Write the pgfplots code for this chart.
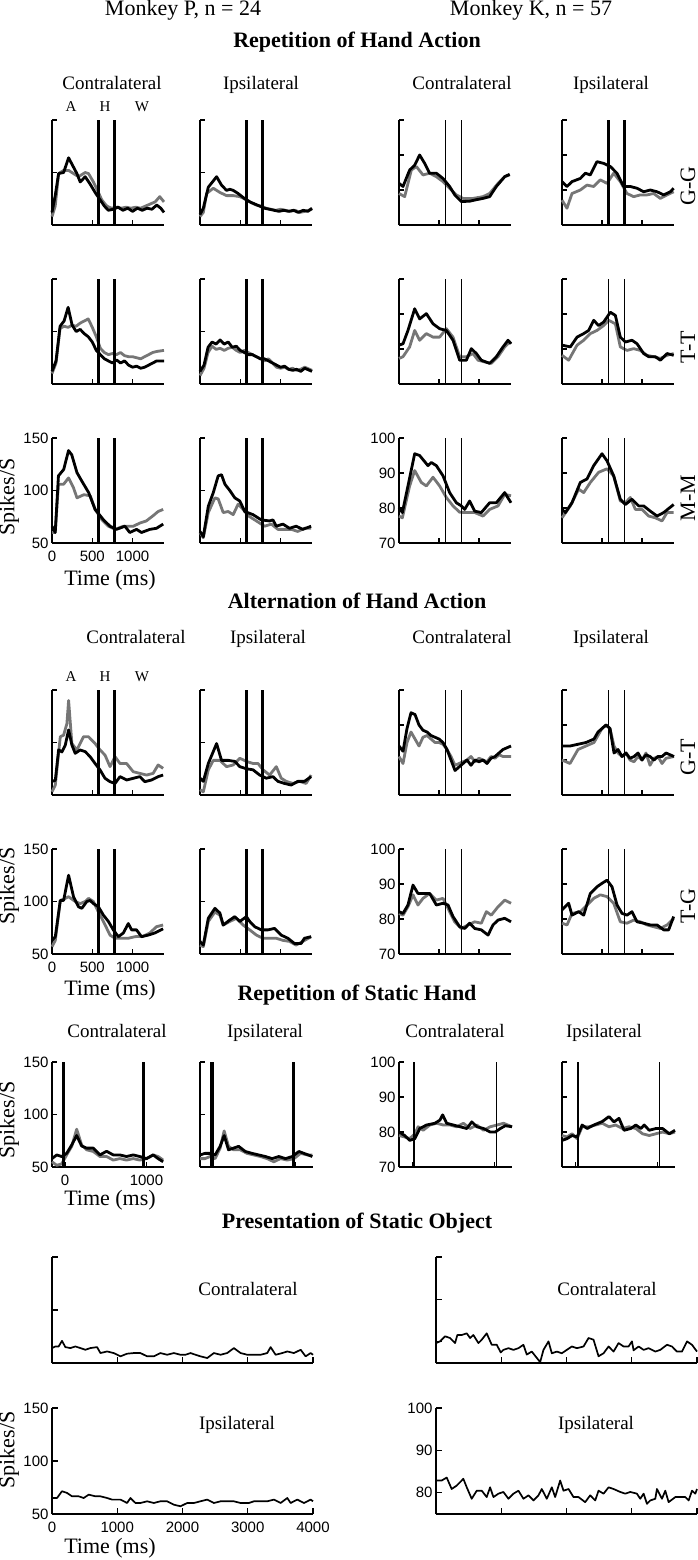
\documentclass[border=0pt]{standalone}
\usepackage{pgfplots}
\pgfplotsset{compat=1.18}
\usepackage{fontspec}
\setmainfont{Liberation Serif}
\newfontfamily\sansf{Liberation Sans}
\definecolor{gry}{RGB}{118,118,118}
\newcommand\fA{\fontsize{22}{25}\selectfont}
\newcommand\fB{\fontsize{19}{22}\selectfont}
\newcommand\fC{\fontsize{15}{17}\selectfont}
\pgfplotsset{
 base/.style={scale only axis, anchor=south west, enlargelimits=false, clip=false,
   axis x line*=bottom, axis y line*=left,
   axis line style={line width=1.4pt,-},
   every outer x axis line/.append style={-},
   every outer y axis line/.append style={-},
   tick align=inside, major tick length=5pt,
   tick style={line width=1.3pt, black},
   xticklabels={}, yticklabels={},
   tick label style={font=\sansf\fontsize{15}{16}\selectfont},
   xticklabel style={yshift=-4pt},
   /pgf/number format/assume math mode=true},
 pA/.style={base, width=112pt, height=105pt, xmin=0, xmax=1390, ymin=50, ymax=150, xtick={0,500,1000}, ytick={50,100,150}},
 kA/.style={base, width=112pt, height=105pt, xmin=0, xmax=1400, ymin=70, ymax=100, xtick={0,500,1000}, ytick={70,80,90,100}},
 pH/.style={base, width=112pt, height=105pt, xmin=-160, xmax=1215, ymin=50, ymax=150, xtick={0,1000}, ytick={50,100,150}},
 kH/.style={base, width=113pt, height=105pt, xmin=-160, xmax=1215, ymin=70, ymax=100, xtick={0,1000}, ytick={70,80,90,100}},
 pO/.style={base, width=261pt, height=106pt, xmin=0, xmax=4000, ymin=50, ymax=150, xtick={0,1000,2000,3000,4000}, ytick={50,100,150}, major tick length=6pt},
 kO/.style={base, width=261pt, height=106pt, xmin=0, xmax=4000, ymin=75, ymax=100, xtick={0,1000,2000,3000,4000}, ytick={80,90,100}, major tick length=6pt},
 blk/.style={black, line width=2.8pt, line join=round, mark=none},
 gry/.style={color=gry, line width=2.8pt, line join=round, mark=none},
 evP/.style={black, line width=3.2pt, mark=none},
 evK/.style={black, line width=1.3pt, mark=none},
 obj/.style={black, line width=1.7pt, line join=round, mark=none},
}
\newcommand\evP{\addplot[evP] coordinates {(575,50)(575,150)};\addplot[evP] coordinates {(780,50)(780,150)};}
\newcommand\evK{\addplot[evK] coordinates {(580,70)(580,100)};\addplot[evK] coordinates {(780,70)(780,100)};}
\newcommand\evKt{\addplot[evP] coordinates {(580,70)(580,100)};\addplot[evP] coordinates {(780,70)(780,100)};}
\begin{document}
\begin{tikzpicture}
\path[use as bounding box] (0pt,0pt) rectangle (698pt,-1560pt);
% ---------- texts ----------
\node[font=\fA] at (183pt,-10pt) {Monkey P, n = 24};
\node[font=\fA] at (531pt,-10pt) {Monkey K, n = 57};
\node[font=\fA\bfseries] at (357pt,-42pt) {Repetition of Hand Action};
\node[font=\fB,anchor=base] at (112pt,-90pt) {Contralateral};
\node[font=\fB,anchor=base] at (261pt,-90pt) {Ipsilateral};
\node[font=\fB,anchor=base] at (462pt,-90pt) {Contralateral};
\node[font=\fB,anchor=base] at (611pt,-90pt) {Ipsilateral};
\node[font=\fC,anchor=base] at (71pt,-112pt) {A};
\node[font=\fC,anchor=base] at (105pt,-112pt) {H};
\node[font=\fC,anchor=base] at (142pt,-112pt) {W};
\node[font=\fA,rotate=90] at (688pt,-186pt) {G-G};
\node[font=\fA,rotate=90] at (688pt,-347pt) {T-T};
\node[font=\fA,rotate=90] at (688pt,-498pt) {M-M};
\node[font=\fA,rotate=90] at (9pt,-497pt) {Spikes/S};
\node[font=\fA] at (110pt,-580pt) {Time (ms)};
\node[font=\fA\bfseries] at (357pt,-601pt) {Alternation of Hand Action};
\node[font=\fB,anchor=base] at (136pt,-643pt) {Contralateral};
\node[font=\fB,anchor=base] at (268pt,-643pt) {Ipsilateral};
\node[font=\fB,anchor=base] at (462pt,-643pt) {Contralateral};
\node[font=\fB,anchor=base] at (611pt,-643pt) {Ipsilateral};
\node[font=\fC,anchor=base] at (71pt,-681pt) {A};
\node[font=\fC,anchor=base] at (105pt,-681pt) {H};
\node[font=\fC,anchor=base] at (142pt,-681pt) {W};
\node[font=\fA,rotate=90] at (688pt,-757pt) {G-T};
\node[font=\fA,rotate=90] at (688pt,-906pt) {T-G};
\node[font=\fA,rotate=90] at (9pt,-886pt) {Spikes/S};
\node[font=\fA] at (110pt,-990pt) {Time (ms)};
\node[font=\fA\bfseries] at (357pt,-995pt) {Repetition of Static Hand};
\node[font=\fB,anchor=base] at (117pt,-1037pt) {Contralateral};
\node[font=\fB,anchor=base] at (265pt,-1037pt) {Ipsilateral};
\node[font=\fB,anchor=base] at (455pt,-1037pt) {Contralateral};
\node[font=\fB,anchor=base] at (604pt,-1037pt) {Ipsilateral};
\node[font=\fA,rotate=90] at (9pt,-1120pt) {Spikes/S};
\node[font=\fA] at (110pt,-1200pt) {Time (ms)};
\node[font=\fA\bfseries] at (357pt,-1223pt) {Presentation of Static Object};
\node[font=\fB,anchor=base] at (248pt,-1295pt) {Contralateral};
\node[font=\fB,anchor=base] at (607pt,-1295pt) {Contralateral};
\node[font=\fB,anchor=base] at (237pt,-1429pt) {Ipsilateral};
\node[font=\fB,anchor=base] at (596pt,-1429pt) {Ipsilateral};
\node[font=\fA,rotate=90] at (9pt,-1450pt) {Spikes/S};
\node[font=\fA] at (110pt,-1548pt) {Time (ms)};

% ================= Section 1 row 1 (G-G) =================
\begin{axis}[pA, at={(52pt,-225pt)}]
\addplot[gry] coordinates {(0,58)(40,68)(82,99)(144,102)(206,102)(267,99)(329,96)(412,100)(453,99)(514,91)(576,81)(617,74)(680,68)(740,66)(800,67)(860,66)(920,67)(980,66)(1040,67)(1100,66)(1160,68)(1220,70)(1280,72)(1337,77)(1390,72)};
\addplot[blk] coordinates {(0,62)(40,78)(82,99)(144,100)(206,114)(247,108)(309,99)(350,91)(412,96)(473,89)(535,81)(597,74)(650,68)(700,64)(760,65)(820,67)(880,64)(940,66)(1000,63)(1060,66)(1120,64)(1180,66)(1240,65)(1300,69)(1350,66)(1390,62)};
\evP
\end{axis}
\begin{axis}[pA, at={(200pt,-225pt)}]
\addplot[gry] coordinates {(0,58)(41,62)(82,80)(165,85)(247,81)(329,78)(412,78)(494,77)(576,74)(640,71)(700,69)(760,68)(820,66)(880,65)(940,64)(1000,65)(1060,64)(1120,63)(1180,64)(1240,62)(1300,63)(1390,65)};
\addplot[blk] coordinates {(0,60)(41,66)(103,86)(165,92)(206,96)(267,88)(329,83)(370,84)(412,83)(473,80)(556,75)(620,72)(680,70)(740,68)(800,66)(860,65)(920,64)(980,63)(1040,64)(1100,63)(1160,64)(1220,62)(1280,64)(1340,63)(1390,66)};
\evP
\end{axis}
\begin{axis}[kA, at={(399pt,-225pt)}]
\addplot[gry] coordinates {(0,79)(71,78.1)(154,85.7)(217,86.7)(300,84.3)(383,84.8)(467,83.8)(550,82.4)(633,80.5)(717,78.6)(800,77.6)(925,77.6)(1050,78.1)(1133,79)(1238,81.9)(1321,83.8)(1383,84.3)};
\addplot[blk] coordinates {(0,81.9)(50,81)(133,85.7)(196,87.1)(258,90)(321,87.6)(383,84.8)(467,84.8)(550,83.3)(633,81)(700,78.5)(779,76.7)(883,76.8)(960,77.2)(1050,77.6)(1133,78.1)(1217,81)(1321,83.8)(1383,84.5)};
\evK
\end{axis}
\begin{axis}[kA, at={(562pt,-225pt)}]
\addplot[gry] coordinates {(0,77.1)(62,74.8)(125,79)(229,80)(312,81.4)(396,81)(479,82.9)(562,81.9)(646,84.8)(729,82.4)(812,79)(896,78.1)(979,78.6)(1063,78.6)(1146,79)(1229,77.6)(1313,78.6)(1396,79.5)};
\addplot[blk] coordinates {(0,82.4)(62,81)(125,82.4)(229,83.3)(292,84.8)(354,84.3)(437,88.1)(521,87.6)(604,86.7)(687,84.8)(771,81)(854,81)(938,80.5)(1021,79.5)(1104,80)(1188,79.5)(1271,78.6)(1354,79.5)(1396,80.5)};
\evKt
\end{axis}
% ================= Section 1 row 2 (T-T) =================
\begin{axis}[pA, at={(52pt,-384pt)}]
\addplot[gry] coordinates {(0,60)(50,70)(100,103)(150,105)(200,104)(250,106)(300,105)(350,108)(400,110)(450,112)(500,104)(550,95)(600,84)(650,80)(700,78)(750,79)(800,78)(850,80)(900,77)(950,76)(1000,76)(1050,75)(1100,74)(1150,76)(1200,78)(1250,80)(1300,81)(1390,82)};
\addplot[blk] coordinates {(0,62)(50,72)(100,105)(150,110)(200,123)(250,106)(300,100)(350,102)(400,98)(450,95)(500,90)(550,82)(600,78)(650,74)(700,72)(750,70)(800,73)(850,70)(900,72)(950,68)(1000,66)(1050,67)(1100,65)(1150,66)(1200,68)(1250,70)(1300,72)(1390,72)};
\evP
\end{axis}
\begin{axis}[pA, at={(200pt,-384pt)}]
\addplot[gry] coordinates {(0,58)(50,65)(100,80)(150,86)(200,83)(250,84)(300,82)(350,84)(400,85)(450,82)(500,80)(550,82)(600,80)(650,78)(700,76)(750,74)(800,72)(850,74)(900,70)(950,66)(1000,65)(1050,66)(1100,64)(1150,65)(1200,63)(1250,64)(1300,66)(1390,63)};
\addplot[blk] coordinates {(0,62)(50,68)(100,85)(150,90)(200,88)(250,92)(300,88)(350,90)(400,85)(450,86)(500,82)(550,80)(600,78)(650,78)(700,76)(750,74)(800,74)(850,72)(900,70)(950,68)(1000,66)(1050,67)(1100,64)(1150,63)(1200,64)(1250,62)(1300,65)(1390,62)};
\evP
\end{axis}
\begin{axis}[kA, at={(399pt,-384pt)}]
\addplot[gry] coordinates {(0,77.3)(50,77.8)(133,80.6)(196,85.3)(258,82.5)(342,84.4)(425,83.4)(508,83.4)(592,85.8)(675,83.4)(758,77.8)(842,77.8)(925,78.7)(988,76.8)(1071,76.3)(1154,75.9)(1238,77.8)(1321,80.6)(1383,82)(1400,81.5)};
\addplot[blk] coordinates {(0,81.1)(50,81.5)(112,85.3)(196,91.5)(258,88.6)(342,90.1)(425,87.2)(508,85.8)(592,85.3)(675,82.5)(758,76.8)(842,76.8)(904,80.1)(967,78.7)(1029,76.8)(1133,75.9)(1217,77.8)(1300,80.6)(1363,82.5)(1400,81.5)};
\evK
\end{axis}
\begin{axis}[kA, at={(562pt,-384pt)}]
\addplot[gry] coordinates {(0,78.2)(83,76.8)(188,81.1)(271,82.5)(354,84.4)(437,85.3)(521,86.7)(583,88.2)(667,87.2)(729,80.6)(812,79.6)(896,80.1)(979,79.6)(1063,78.2)(1146,77.8)(1229,77.3)(1313,78.2)(1396,78.7)};
\addplot[blk] coordinates {(0,81.1)(104,80.6)(188,83.4)(271,84.4)(333,85.3)(396,88.2)(458,86.7)(521,87.7)(604,90.5)(667,89.6)(729,83.4)(792,82)(875,82.5)(938,81.5)(1021,78.7)(1083,77.8)(1167,77.8)(1229,76.8)(1313,78.7)(1396,78.2)};
\evK
\end{axis}
% ================= Section 1 row 3 (M-M) =================
\begin{axis}[pA, at={(52pt,-543pt)}, xticklabels={0,500,1000}, yticklabels={50,100,150}]
\addplot[gry] coordinates {(0,60)(40,60)(80,106)(145,106)(205,112)(265,103)(310,93)(395,96)(475,95)(535,82)(620,72)(700,66)(785,63)(885,66)(1010,66)(1090,69)(1170,71)(1255,76)(1317,80)(1380,82)};
\addplot[blk] coordinates {(0,66)(40,60)(80,114)(145,120)(205,138)(245,134)(310,117)(370,109)(455,98)(535,82)(640,72)(720,66)(800,63)(905,66)(965,60)(1050,63)(1110,60)(1215,63)(1296,64)(1380,68)};
\evP
\end{axis}
\begin{axis}[pA, at={(200pt,-543pt)}]
\addplot[gry] coordinates {(0,60)(41,55)(103,79)(185,93)(226,92)(288,79)(350,80)(412,77)(473,87)(535,82)(597,76)(700,71)(802,66)(885,68)(967,63)(1049,63)(1132,63)(1214,61)(1296,64)(1379,64)};
\addplot[blk] coordinates {(0,61)(41,56)(103,85)(165,98)(226,114)(267,115)(309,106)(370,100)(432,93)(494,90)(556,80)(658,77)(761,72)(864,71)(905,72)(947,66)(1029,68)(1111,64)(1193,66)(1276,63)(1379,66)};
\evP
\end{axis}
\begin{axis}[kA, at={(399pt,-543pt)}, yticklabels={70,80,90,100}]
\addplot[gry] coordinates {(0,77.7)(42,77.2)(133,86.3)(196,90.7)(279,87.3)(342,86.3)(425,88.8)(508,86.3)(592,83)(675,80.6)(758,78.8)(842,78.7)(946,78.7)(1050,77.7)(1133,79.6)(1238,80.6)(1321,83.9)(1400,83.5)};
\addplot[blk] coordinates {(0,80.1)(42,78.7)(112,86.3)(196,95.5)(258,95)(362,92.1)(404,93)(467,92.1)(550,89.2)(633,84.4)(717,81.5)(779,80.6)(821,79.6)(883,82)(946,79.1)(1029,78.7)(1133,81.5)(1217,81.5)(1321,84.4)(1400,81.5)};
\evK
\end{axis}
\begin{axis}[kA, at={(562pt,-543pt)}]
\addplot[gry] coordinates {(0,77.2)(104,80.6)(208,85.4)(271,84.4)(354,87.3)(458,90.2)(562,91.2)(646,89.2)(729,82)(792,81.5)(854,83)(917,79.6)(1000,79.6)(1083,77.7)(1167,77.2)(1250,76.3)(1313,78.7)(1396,78.7)};
\addplot[blk] coordinates {(0,79.6)(42,78.7)(125,81.5)(229,87.3)(312,88.3)(396,92.1)(500,95.5)(562,93.5)(646,89.2)(729,82.5)(792,81)(875,82.5)(958,80.6)(1021,80.6)(1104,79.1)(1188,77.7)(1271,78.7)(1396,81)};
\evK
\end{axis}
% ================= Section 2 row 1 (G-T) =================
\begin{axis}[pA, at={(52pt,-795pt)}]
\addplot[gry] coordinates {(0,53)(41,59.5)(103,105.5)(144,107)(185,118)(206,140)(247,99)(309,92.9)(391,105.5)(453,105.5)(535,99)(597,92.9)(658,88)(720,77)(782,86.5)(844,80)(926,80)(1008,72.2)(1091,70.6)(1173,69)(1255,70.6)(1317,78.6)(1379,75.4)};
\addplot[blk] coordinates {(0,63)(41,64)(82,93)(123,91)(165,97.6)(206,112)(247,97.6)(288,89.7)(350,92.9)(412,91.3)(473,86.5)(535,80)(597,73.8)(658,65.9)(720,62.7)(782,61)(844,67.5)(926,64.3)(1008,65.9)(1091,67.5)(1152,62.7)(1235,64.3)(1317,67.5)(1379,69)};
\evP
\end{axis}
\begin{axis}[pA, at={(200pt,-795pt)}]
\addplot[gry] coordinates {(0,55)(41,53)(103,74)(165,83)(247,83)(329,77)(412,78.6)(494,85)(576,82)(658,80)(720,80)(782,74)(864,69)(947,77)(1008,66)(1070,63)(1152,61)(1235,63)(1317,61)(1379,69)};
\addplot[blk] coordinates {(0,66)(41,63)(103,80)(206,99)(267,83)(350,83)(432,82)(494,77)(576,75)(658,74)(741,69)(823,66)(905,67.5)(967,63)(1049,61)(1132,59.5)(1214,63)(1296,63)(1379,67.5)};
\evP
\end{axis}
\begin{axis}[kA, at={(399pt,-795pt)}]
\addplot[gry] coordinates {(0,81)(50,79)(100,85)(150,88)(200,86)(250,84)(300,86.5)(350,87)(400,86)(450,85)(500,85)(550,84.5)(600,83)(650,81)(700,78.5)(750,79)(800,79.5)(850,80)(900,81)(950,79.5)(1000,80.5)(1050,80)(1100,79.5)(1150,81)(1200,80.5)(1250,81.5)(1300,81)(1400,81)};
\addplot[blk] coordinates {(0,84)(50,82.5)(100,89)(150,93.5)(200,93)(250,90)(300,88.5)(350,88)(400,87)(450,86.5)(500,86)(550,85)(600,83)(650,80)(700,77)(750,78)(800,79)(850,80)(900,78.5)(950,80)(1000,79.5)(1050,80)(1100,79)(1150,80.5)(1200,81)(1250,82)(1300,83)(1400,84)};
\evK
\end{axis}
\begin{axis}[kA, at={(562pt,-795pt)}]
\addplot[gry] coordinates {(0,80)(100,79)(200,83)(300,84)(400,85)(450,87)(500,89)(550,90)(600,89)(650,84)(700,82)(750,81)(800,82)(850,80)(900,79.5)(950,81)(1000,80)(1050,82)(1100,78.5)(1150,80.5)(1200,81)(1250,79)(1300,80.5)(1400,81)};
\addplot[blk] coordinates {(0,84)(100,84)(200,84.5)(300,85)(400,86)(450,88)(500,89)(550,90)(600,89)(650,82)(700,83)(750,81)(800,82)(850,80.5)(900,81)(950,82)(1000,80)(1050,81.5)(1100,81)(1150,80)(1200,81)(1250,81)(1300,82)(1400,81)};
\evK
\end{axis}
% ================= Section 2 row 2 (T-G) =================
\begin{axis}[pA, at={(52pt,-954pt)}, xticklabels={0,500,1000}, yticklabels={50,100,150}]
\addplot[gry] coordinates {(0,57)(41,63)(103,101)(165,103)(206,104.6)(288,100)(350,98)(412,100)(453,103)(514,100)(576,90)(638,81)(720,68)(782,65)(864,65)(947,65)(1029,66.5)(1132,67)(1214,70)(1296,76)(1379,77.6)};
\addplot[blk] coordinates {(0,63)(41,66.5)(103,101)(144,101)(206,125)(267,104.6)(329,95)(370,93.5)(432,100)(473,101)(514,98)(576,95)(638,87)(700,81)(761,73)(823,66.5)(885,70)(947,79)(988,73)(1049,73)(1111,66.5)(1193,68)(1276,70)(1379,74)};
\evP
\end{axis}
\begin{axis}[pA, at={(200pt,-954pt)}]
\addplot[gry] coordinates {(0,58.5)(41,57)(103,81)(185,90)(247,87)(288,77.6)(370,81)(453,84)(535,77.6)(617,73)(700,68)(782,65)(864,65)(947,65)(1029,63)(1111,62)(1193,58.5)(1276,62)(1379,66.5)};
\addplot[blk] coordinates {(0,62)(41,58.5)(103,84)(185,93.5)(247,89)(288,77.6)(370,82.4)(432,85.6)(494,81)(576,85.6)(617,81)(679,76)(761,73)(844,73)(926,74.4)(1008,68)(1091,65)(1173,60)(1255,60)(1296,65)(1379,66.5)};
\evP
\end{axis}
\begin{axis}[kA, at={(399pt,-954pt)}, yticklabels={70,80,90,100}]
\addplot[gry] coordinates {(0,81.6)(50,81.1)(112,83.5)(175,86.9)(237,84)(300,85.9)(383,87.3)(467,85.4)(550,85.9)(633,82.1)(696,79.2)(779,77.3)(862,78.3)(946,79.2)(1029,78.8)(1092,82.1)(1154,81.1)(1238,83.5)(1321,85.4)(1400,84.5)};
\addplot[blk] coordinates {(0,82.1)(50,81.6)(112,84)(175,89.7)(237,87.3)(300,87.3)(383,87.3)(467,84)(550,84.5)(613,84)(675,80.7)(758,77.8)(821,77.3)(883,78.8)(946,77.3)(1029,76.9)(1113,75.4)(1175,78.3)(1238,79.7)(1321,80.2)(1400,79.2)};
\evK
\end{axis}
\begin{axis}[kA, at={(562pt,-954pt)}]
\addplot[gry] coordinates {(0,78.8)(63,78.3)(125,81.6)(229,82.1)(313,84)(396,85.9)(479,86.9)(563,86.4)(646,84.5)(729,79.2)(813,78.8)(896,79.7)(979,79.2)(1063,78.3)(1146,77.8)(1229,77.3)(1313,78.3)(1396,80.2)};
\addplot[blk] coordinates {(0,82.6)(83,84.5)(125,81.1)(208,82.1)(271,81.1)(354,87.3)(437,89.2)(500,90.2)(563,91.1)(625,89.2)(688,84)(750,81.6)(813,81.1)(875,82.1)(938,79.2)(1021,78.8)(1104,78.3)(1188,78.3)(1271,76.9)(1333,76.9)(1396,80.7)};
\evK
\end{axis}
% ================= Section 3 (static hand) =================
\begin{axis}[pH, at={(52pt,-1167pt)}, xticklabels={0,1000}, yticklabels={50,100,150}]
\addplot[gry] coordinates {(-160,55)(-102,51.6)(-41,53)(20,61.5)(82,69.7)(143,86)(204,71)(265,66.4)(347,64.8)(429,60)(510,60)(592,56.6)(673,58)(755,56.6)(837,58)(918,56.6)(1000,58)(1082,61.5)(1143,60)(1204,56.6)};
\addplot[blk] coordinates {(-160,58)(-102,61.5)(-41,60)(20,63)(82,71)(143,80)(204,70)(265,68)(347,68)(429,61.5)(510,65)(592,61.5)(673,61.5)(755,60)(837,61.5)(918,60)(1000,58)(1082,61.5)(1143,58)(1204,55)};
\addplot[evP] coordinates {(-20,50)(-20,150)};
\addplot[evP] coordinates {(965,50)(965,150)};
\end{axis}
\begin{axis}[pH, at={(200pt,-1167pt)}, width=113pt]
\addplot[gry] coordinates {(-160,58)(-99,58)(-38,60)(24,58)(85,68)(134,84.4)(187,69.7)(248,66.4)(330,66.4)(411,63)(493,61.5)(575,60)(656,58)(738,55)(820,58)(901,56.6)(983,58)(1064,63)(1146,61.5)(1207,61.5)};
\addplot[blk] coordinates {(-160,61.5)(-99,63)(-38,63)(24,61.5)(85,69.7)(134,80)(187,66.4)(248,68)(310,69.7)(391,64.8)(473,63)(554,61.5)(636,60)(718,58)(799,60)(881,58)(962,60)(1044,64.8)(1105,63)(1207,60)};
\addplot[evP] coordinates {(-13,50)(-13,150)};
\addplot[evP] coordinates {(977,50)(977,150)};
\end{axis}
\begin{axis}[kH, at={(399pt,-1167pt)}, yticklabels={70,80,90,100}]
\addplot[gry] coordinates {(-160,79)(-91,78.6)(-29,78.1)(32,79.5)(73,81.5)(134,80.5)(216,82)(297,82.5)(379,82)(460,82)(542,81.5)(624,82.5)(705,81)(787,82)(869,80.5)(950,81.5)(1032,82)(1113,82.5)(1215,81.5)};
\addplot[blk] coordinates {(-160,80)(-91,79)(-29,77.6)(32,78.1)(93,81)(175,82)(277,82.5)(338,83.4)(371,84.9)(420,82.5)(501,82)(583,81.5)(665,81)(726,82.9)(787,81.5)(869,81)(950,80)(1011,80)(1073,81)(1134,81.8)(1215,81.5)};
\addplot[evK] coordinates {(23,70)(23,100)};
\addplot[evK] coordinates {(1026,70)(1026,100)};
\end{axis}
\begin{axis}[kH, at={(562pt,-1167pt)}]
\addplot[gry] coordinates {(-160,79)(-99,78.6)(-38,79.5)(24,78.1)(85,81.5)(166,81.5)(248,82)(330,82.5)(411,81.5)(493,82)(575,81)(656,81.5)(738,81)(820,79.5)(901,79)(983,79.5)(1064,80)(1146,79.5)(1215,80)};
\addplot[blk] coordinates {(-160,77.6)(-99,78.1)(-38,79)(24,78.6)(85,82)(146,81)(228,82)(330,83)(411,84.4)(473,82.9)(534,83.9)(595,80.5)(677,81)(738,82)(799,81)(840,82)(901,80.5)(983,81)(1064,81)(1146,79.5)(1215,80.5)};
\addplot[evK] coordinates {(36,70)(36,100)};
\addplot[evK] coordinates {(1026,70)(1026,100)};
\end{axis}
% ================= Section 4 (static object) =================
\begin{axis}[pO, at={(52pt,-1363pt)}]
\addplot[obj] coordinates {(0,64)(51,65.6)(102,65.6)(153,70.9)(205,65)(281,64.1)(358,65.6)(435,64.1)(512,62.5)(588,64.1)(691,65)(742,59.4)(844,60.9)(946,59.4)(1049,56.3)(1151,58.8)(1253,59.4)(1355,59.4)(1458,56.3)(1560,56.3)(1662,59.4)(1765,57.8)(1867,59.4)(1969,57.8)(2046,57.8)(2123,59.4)(2199,57.8)(2276,56.3)(2379,54.7)(2481,59.4)(2583,57.8)(2685,59.4)(2788,64.1)(2890,59.4)(2992,57.8)(3095,57.8)(3197,57.8)(3299,59.4)(3350,65)(3427,57.8)(3529,59.4)(3606,60.9)(3708,59.4)(3811,62.5)(3887,56.3)(3964,59.4)(4000,57.8)};
\end{axis}
\begin{axis}[pO, at={(52pt,-1514pt)}, xticklabels={0,1000,2000,3000,4000}, yticklabels={50,100,150}]
\addplot[obj] coordinates {(0,65.1)(77,65.1)(153,71.5)(230,69.9)(307,66.7)(409,66.7)(486,65.1)(563,68.3)(665,66.7)(742,66.7)(844,65.1)(921,63.6)(1049,63.6)(1151,60.4)(1202,65.1)(1279,60.4)(1355,60.4)(1458,62)(1560,60.4)(1662,62)(1765,62)(1867,58.8)(1969,57.3)(2072,60.4)(2174,60.4)(2276,62)(2379,63.6)(2481,60.4)(2583,62)(2685,62)(2788,62)(2890,60.4)(3018,60.4)(3095,62)(3197,62)(3299,62)(3402,63.6)(3504,60.4)(3606,65.1)(3657,60.4)(3760,63.6)(3862,60.4)(3964,63.6)(4000,62)};
\end{axis}
\begin{axis}[kO, at={(436pt,-1363pt)}]
\addplot[obj] coordinates {(0,79.7)(61,80.1)(138,81.3)(215,80.9)(292,79.7)(327,81.6)(394,81.6)(471,82)(522,80.9)(573,81.6)(650,79.7)(701,80.5)(777,82)(854,79.3)(931,79.3)(992,77.5)(1033,78.1)(1110,78.5)(1187,78.1)(1263,78.5)(1340,79.3)(1391,77)(1468,77.7)(1545,76.2)(1596,75.2)(1647,78.1)(1724,80.1)(1775,77.3)(1852,77.7)(1928,77.3)(2005,78.1)(2082,78.9)(2159,78.5)(2261,78.9)(2338,80.9)(2414,80.5)(2491,76.6)(2568,77.3)(2645,78.9)(2721,77.7)(2798,79.7)(2875,78.9)(2951,78.9)(3003,80.1)(3028,78)(3105,78.9)(3182,78.1)(3258,78.5)(3361,77.7)(3437,78.1)(3540,79.3)(3616,78.9)(3693,77.7)(3770,77.7)(3847,80.1)(3923,79.3)(4000,77.7)};
\end{axis}
\begin{axis}[kO, at={(436pt,-1514pt)}, yticklabels={80,90,100}]
\addplot[obj] coordinates {(0,82.9)(87,82.9)(164,83.6)(240,80.9)(317,81.7)(419,83.3)(471,81.3)(547,78.6)(624,80.5)(701,80.5)(777,79)(829,81.3)(880,79)(957,79.8)(1033,80.2)(1110,78.6)(1187,79.8)(1263,80.5)(1340,78.6)(1417,79.4)(1494,78.2)(1570,79.4)(1621,80.9)(1698,78.6)(1775,81.3)(1826,79)(1903,82.9)(1954,80.5)(2031,80.9)(2107,79)(2184,79)(2286,77.8)(2363,79.4)(2440,78.2)(2491,80.5)(2568,79.8)(2645,81.3)(2721,80.9)(2824,80.2)(2900,79.8)(2977,80.2)(3079,79.8)(3130,78.6)(3182,79.8)(3233,77.4)(3284,78.2)(3361,78.6)(3386,80.9)(3463,78.6)(3514,80.5)(3565,77.8)(3668,79)(3744,79)(3821,79)(3872,78.2)(3923,80.5)(3974,79.8)(4000,80.9)};
\end{axis}
\end{tikzpicture}
\end{document}
